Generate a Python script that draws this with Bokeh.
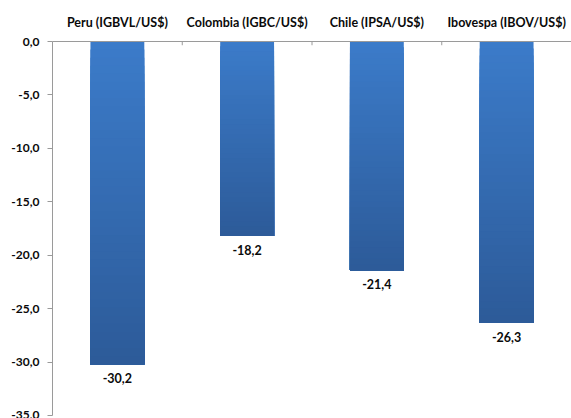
import numpy as np
from bokeh.plotting import figure
from bokeh.models import LinearAxis, FixedTicker, Range1d, ColumnDataSource
from bokeh.core.properties import value
from bokeh.embed import file_html
from bokeh.resources import INLINE

categories = ["Peru (IGBVL/US$)", "Colombia (IGBC/US$)", "Chile (IPSA/US$)", "Ibovespa (IBOV/US$)"]
values = [-30.2, -18.2, -21.4, -26.3]
y_ticks = [0, -5, -10, -15, -20, -25, -30, -35]
y_tick_labels = ["0,0", "-5,0", "-10,0", "-15,0", "-20,0", "-25,0", "-30,0", "-35,0"]
value_labels = ["-30,2", "-18,2", "-21,4", "-26,3"]

FONT = "Lato"
n = len(categories)

p = figure(width=571, height=418, output_backend="svg", toolbar_location=None,
           x_range=Range1d(0, n), y_range=Range1d(-35, 0),
           min_border_left=52, min_border_top=41, min_border_bottom=3, min_border_right=0)
p.xaxis.visible = False
p.yaxis.visible = False
p.grid.visible = False
p.outline_line_color = None
p.background_fill_color = "white"
p.border_fill_color = "white"

# gradient bars: overlapping strips, each running from its top edge to the bar end
top_col = np.array([0x3C, 0x7C, 0xCA])
bot_col = np.array([0x2D, 0x5B, 0x99])
N = 40
bw = 0.415
left, right, tops, bottoms, colors = [], [], [], [], []
for i, v in enumerate(values):
    edges = np.linspace(0, v, N + 1)
    for k in range(N):
        t = (k + 0.5) / N
        c = (top_col * (1 - t) + bot_col * t).astype(int)
        left.append(i + 0.5 - bw / 2)
        right.append(i + 0.5 + bw / 2)
        tops.append(edges[k])
        bottoms.append(v)
        colors.append("#%02x%02x%02x" % tuple(c))
p.quad(left=left, right=right, top=tops, bottom=bottoms, fill_color=colors, line_color=None)

# data labels
src = ColumnDataSource(dict(x=[i + 0.5 for i in range(n)], y=values, t=value_labels))
p.text(x="x", y="y", text="t", source=src, text_align="center", text_baseline="top",
       y_offset=9, text_font=value(FONT), text_font_style="bold", text_font_size="12.5px", text_color="#0a0a0a")

# left axis
ya = LinearAxis(ticker=FixedTicker(ticks=y_ticks),
                major_label_overrides={t: l for t, l in zip(y_ticks, y_tick_labels)})
ya.axis_line_color = "#9a9a9a"
ya.major_tick_line_color = "#9a9a9a"
ya.major_tick_out = 5
ya.major_tick_in = 0
ya.minor_tick_out = 0
ya.minor_tick_in = 0
ya.major_label_standoff = 8
ya.major_label_text_font = FONT
ya.major_label_text_font_style = "bold"
ya.major_label_text_font_size = "12px"
ya.major_label_text_color = "#0a0a0a"
p.add_layout(ya, "left")

# top category axis
xa = LinearAxis(ticker=FixedTicker(ticks=[i + 0.5 for i in range(n)]),
                major_label_overrides={i + 0.5: c for i, c in enumerate(categories)})
xa.axis_line_color = "#9a9a9a"
xa.major_tick_in = 0
xa.major_tick_out = 0
xa.minor_tick_out = 0
xa.minor_tick_in = 0
xa.major_label_standoff = 12
xa.major_label_text_font = FONT
xa.major_label_text_font_style = "bold"
xa.major_label_text_font_size = "12.5px"
xa.major_label_text_color = "#0a0a0a"
p.add_layout(xa, "above")

# category boundary ticks
bx = list(range(1, n))
p.segment(x0=bx, x1=bx, y0=[0] * len(bx), y1=[-0.35] * len(bx), line_color="#9a9a9a", line_width=1)

open("out.html", "w").write(file_html(p, INLINE))
